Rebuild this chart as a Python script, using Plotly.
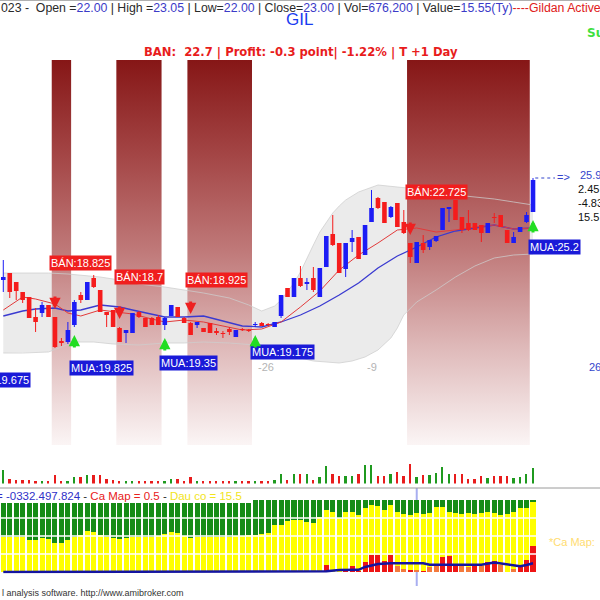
import plotly.graph_objects as go

# ------------------------------------------------------------------ data
opens = [20.8, 21.15, 20.7, 20.2, 19.95, 18.95, 19.15, 19.55, 18.95, 17.75,
         17.7, 18.55, 20.05, 19.8, 20.9, 20.3, 19.2, 19.3, 18.4, 18.15,
         18.15, 19.2, 18.9, 18.9, 18.95, 18.55, 19.0, 19.45, 18.9, 18.65,
         18.55, 18.4, 18.65, 18.25, 18.15, 18.35, 17.95, 18.35, 18.3, 18.55,
         18.65, 18.6, 18.45, 19.0, 20.4, 19.95, 20.9, 20.6, 20.9, 19.95,
         21.45, 23.1, 22.65, 21.35, 22.7, 22.95, 22.05, 23.7, 24.9, 24.7,
         23.95, 24.65, 23.7, 22.65, 21.65, 22.65, 22.45, 22.75, 23.3, 24.35,
         24.8, 23.95, 23.65, 23.65, 23.55, 23.15, 23.95, 24.05, 23.3, 22.65,
         23.2, 23.7, 24.2]
highs = [21.8, 21.15, 20.7, 20.2, 19.95, 19.4, 19.7, 19.55, 18.95, 17.9,
         18.7, 19.8, 20.2, 20.7, 21.05, 20.3, 19.2, 19.3, 18.45, 18.3,
         19.15, 19.25, 18.9, 18.95, 19.05, 18.95, 19.55, 19.45, 18.95, 18.7,
         18.7, 18.4, 18.65, 18.4, 18.25, 18.45, 18.3, 18.4, 18.35, 18.7,
         18.7, 18.65, 18.7, 20.05, 20.4, 20.9, 21.5, 20.9, 21.45, 21.4,
         23.0, 24.05, 22.65, 22.65, 23.3, 22.95, 23.55, 25.3, 24.95, 24.7,
         24.5, 24.65, 24.3, 22.65, 22.7, 23.05, 22.8, 23.0, 24.4, 24.45,
         24.8, 23.95, 24.3, 23.65, 23.55, 23.65, 24.15, 24.05, 23.3, 23.2,
         23.45, 24.2, 25.9]
lows = [20.2, 19.9, 19.8, 19.65, 18.9, 18.2, 18.95, 18.95, 17.4, 17.5,
        17.6, 18.45, 19.65, 19.8, 20.4, 19.2, 18.45, 18.45, 17.7, 17.65,
        18.15, 18.9, 18.45, 18.55, 18.55, 18.3, 19.0, 18.95, 18.65, 18.05,
        18.4, 18.2, 18.15, 18.05, 17.9, 18.05, 17.95, 18.25, 18.2, 18.45,
        18.5, 18.5, 18.45, 18.9, 19.95, 19.95, 20.45, 20.3, 20.2, 19.95,
        21.45, 22.5, 21.15, 20.95, 22.2, 21.85, 22.05, 23.7, 24.35, 23.65,
        23.9, 23.45, 23.1, 21.65, 21.65, 22.15, 22.3, 22.7, 23.3, 23.7,
        23.8, 23.15, 23.25, 23.3, 22.7, 23.15, 23.65, 23.45, 22.65, 22.65,
        23.2, 23.65, 24.2]
closes = [20.95, 20.2, 20.25, 19.8, 18.9, 18.7, 19.55, 18.95, 17.45, 17.65,
          18.3, 19.7, 19.8, 20.7, 20.45, 19.2, 19.05, 18.45, 17.7, 18.3,
          19.15, 18.95, 18.45, 18.55, 18.55, 18.9, 19.55, 18.95, 18.65, 18.05,
          18.7, 18.2, 18.15, 18.15, 18.1, 18.2, 18.3, 18.3, 18.25, 18.6,
          18.5, 18.55, 18.7, 20.05, 19.95, 20.9, 20.5, 20.7, 20.3, 21.4,
          23.0, 22.55, 21.15, 22.65, 22.9, 21.85, 23.55, 24.4, 24.4, 23.65,
          24.45, 23.45, 23.15, 21.95, 22.7, 22.3, 22.8, 23.0, 24.4, 24.45,
          23.8, 23.3, 23.3, 23.3, 23.15, 23.65, 23.9, 23.45, 22.65, 22.95,
          23.45, 24.05, 25.8]
volumes = [630000, 225000, 180000, 180000, 180000, 135000, 135000, 135000, 405000, 135000,
           135000, 315000, 315000, 405000, 405000, 405000, 225000, 180000, 135000, 135000,
           135000, 135000, 135000, 135000, 135000, 135000, 225000, 225000, 135000, 315000,
           135000, 135000, 135000, 135000, 135000, 135000, 135000, 135000, 135000, 135000,
           135000, 135000, 180000, 450000, 180000, 450000, 450000, 450000, 180000, 315000,
           810000, 450000, 360000, 360000, 360000, 450000, 855000, 855000, 360000, 360000,
           450000, 540000, 360000, 900000, 315000, 405000, 405000, 495000, 765000, 450000,
           450000, 450000, 225000, 225000, 360000, 270000, 360000, 360000, 360000, 270000,
           315000, 450000, 676200]

ma_idx = [0, 3, 5, 8, 10, 12, 15, 18, 20, 23, 25, 28, 31, 34, 37, 40, 43, 46, 49, 52,
          55, 58, 61, 64, 67, 70, 73, 76, 79, 82]
ma_fast = [19.3, 19.95, 19.85, 19.6, 19.15, 19.0, 19.3, 19.2, 19.1, 18.85, 18.7, 18.8, 18.7,
           18.5, 18.3, 18.35, 18.7, 19.45, 20.25, 21.3, 22.05, 22.65, 23.3, 23.4, 23.2, 23.3,
           23.45, 23.55, 23.35, 23.4]
ma_slow = [19.0, 19.25, 19.35, 19.4, 19.25, 19.3, 19.55, 19.45, 19.3, 19.1, 18.95, 18.95, 19.0,
           18.75, 18.5, 18.45, 18.7, 19.05, 19.5, 20.05, 20.65, 21.4, 22.0, 22.45, 22.95, 23.25,
           23.4, 23.55, 23.35, 23.4]

band_up_idx = [0, 7, 10, 12, 15, 18, 21, 25, 28, 31, 35, 38, 40, 42, 43, 44, 45, 46, 47, 48,
               49, 50, 51, 52, 53, 55, 58, 61, 64, 67, 70, 73, 76, 79, 82]
band_up = [21.15, 21.15, 21.1, 21.05, 20.95, 20.8, 20.6, 20.45, 20.3, 20.15, 19.9, 19.55, 19.25,
           19.5, 19.8, 20.2, 20.65, 21.2, 21.9, 22.55, 23.2, 23.7, 24.15, 24.5, 24.8, 25.2, 25.55,
           25.45, 25.35, 25.15, 25.05, 24.95, 24.85, 24.7, 24.55]
band_lo_idx = [0, 3, 7, 11, 14, 17, 21, 25, 28, 31, 35, 39, 40, 42, 44, 46, 48, 50, 52, 54,
               56, 58, 60, 61, 62, 64, 67, 70, 73, 76, 79, 82]
band_lo = [17.15, 17.15, 17.2, 17.7, 17.7, 17.6, 17.55, 17.65, 17.65, 17.7, 17.65, 17.55, 17.45,
           17.2, 17.0, 16.9, 16.75, 16.7, 16.65, 16.75, 16.95, 17.3, 17.9, 18.4, 19.05, 19.7,
           20.3, 20.95, 21.5, 21.9, 22.05, 22.1]

sell_idx = [8, 18, 29, 63]
sell_text = ["18.825", "18.7", "18.925", "22.725"]
buy_idx = [11, 25, 39, 82]
buy_text = ["19.825", "19.35", "19.175", "25.2"]
prior_buy_text = "19.675"

flow_green = [46.3, 46.3, 46.3, 47.3, 51.0, 51.0, 48.7, 50.1, 55.6, 54.7,
              51.0, 46.3, 44.0, 38.5, 39.4, 44.0, 46.3, 47.7, 50.1, 47.7,
              46.3, 46.3, 46.3, 46.3, 45.4, 43.1, 39.4, 41.7, 45.4, 47.7,
              46.3, 46.3, 46.3, 46.3, 46.3, 46.3, 45.4, 45.4, 44.0, 48.6,
              47.7, 45.4, 34.7, 34.7, 29.2, 27.8, 27.8, 30.1, 32.4, 23.1,
              13.9, 16.2, 25.5, 16.2, 16.2, 20.8, 11.6, 6.9, 8.3, 13.9,
              6.9, 16.2, 19.4, 20.8, 18.5, 19.4, 17.6, 9.3, 9.3, 16.2,
              18.5, 19.4, 18.5, 19.4, 17.6, 16.2, 17.6, 20.8, 19.4, 16.2,
              11.6, 11.6, 2.3]
flow_yellow = [49.1, 49.1, 49.1, 48.1, 44.4, 44.4, 46.7, 45.3, 39.8, 40.7,
               44.4, 49.1, 51.4, 56.9, 56.0, 51.4, 49.1, 47.7, 45.3, 47.7,
               49.1, 49.1, 49.1, 49.1, 50.0, 52.3, 56.0, 53.7, 50.0, 47.7,
               49.1, 49.1, 49.1, 49.1, 49.1, 49.1, 50.0, 50.0, 51.4, 51.4,
               52.3, 54.6, 65.3, 65.3, 70.8, 72.2, 72.2, 69.9, 67.6, 76.9,
               76.8, 83.8, 74.5, 79.2, 75.9, 77.2, 74.5, 70.0, 68.6, 70.8,
               70.0, 75.9, 76.0, 76.9, 79.2, 79.2, 75.5, 82.8, 69.9, 62.0,
               72.2, 72.7, 74.6, 71.3, 74.5, 69.9, 67.1, 69.9, 80.6, 79.2,
               79.1, 72.2, 62.1]
flow_red = [0, 0, 0, 0, 0, 0, 0, 0, 0, 0,
            0, 0, 0, 0, 0, 0, 0, 0, 0, 0,
            0, 0, 0, 0, 0, 0, 0, 0, 0, 0,
            0, 0, 0, 0, 0, 0, 0, 0, 0, 0,
            0, 0, 0, 0, 0, 0, 0, 0, 0, 0,
            9.3, 0, 0, 4.6, 7.9, 2.0, 13.9, 23.1, 23.1, 15.3,
            23.1, 7.9, 4.6, 2.3, 2.3, 1.4, 6.9, 7.9, 20.8, 21.8,
            9.3, 7.9, 6.9, 9.3, 7.9, 13.9, 15.3, 9.3, 0, 4.6,
            9.3, 16.2, 35.6]
flow_red_light = [61, 62, 64, 66, 67, 71, 72, 74, 77, 79]
flow_line_idx = [0, 45, 48, 50, 52, 55, 56, 58, 60, 65, 66, 74, 76, 78, 80, 81, 82]
flow_line = [0, 0, 0, 1.0, 2.8, 3.0, 7.0, 11.0, 12.0, 12.0, 10.0, 10.0, 13.0, 11.0, 8.0, 9.7, 12.0]
marker_idx = 64

# ------------------------------------------------------------------ helpers
W = H = 600
FONT = "Liberation Sans, Arial, sans-serif"
BOLD_FONT = "DejaVu Sans, Verdana, sans-serif"


def px(x):
    return x / W


def py(y):
    return 1 - y / H


n = len(closes)
idx = list(range(n))
up = [c >= o for o, c in zip(opens, closes)]
Y_LO, Y_HI = 12.55, 31.8
BLUE = "#1c1cf5"
RED = "#f51c1c"

fig = go.Figure()

# Bollinger band fill
fig.add_trace(go.Scatter(x=band_up_idx + band_lo_idx[::-1], y=band_up + band_lo[::-1],
                         fill="toself", fillcolor="#ebebeb", mode="lines",
                         line=dict(width=0), hoverinfo="skip", yaxis="y"))

# sell-zone gradient columns
grad = [[0, "#fbf5f5"], [0.25, "#dfbaba"], [0.5, "#c07a7a"], [0.75, "#a44646"], [1, "#861616"]]
for s, b in zip(sell_idx, buy_idx):
    x0, x1 = s - 0.5, b - 0.5
    fig.add_trace(go.Scatter(x=[x0, x1, x1, x0, x0], y=[Y_LO, Y_LO, Y_HI, Y_HI, Y_LO],
                             fill="toself", mode="lines", line=dict(width=0),
                             fillgradient=dict(type="vertical", colorscale=grad,
                                               start=Y_LO, stop=Y_HI),
                             hoverinfo="skip", yaxis="y"))

# band edges
for bx, by in ((band_up_idx, band_up), (band_lo_idx, band_lo)):
    fig.add_trace(go.Scatter(x=bx, y=by, mode="lines",
                             line=dict(color="rgba(205,205,205,0.75)", width=1),
                             hoverinfo="skip", yaxis="y"))

# moving averages
fig.add_trace(go.Scatter(x=ma_idx, y=ma_slow, mode="lines",
                         line=dict(color="#3a3ad0", width=1.3), yaxis="y"))
fig.add_trace(go.Scatter(x=ma_idx, y=ma_fast, mode="lines",
                         line=dict(color="#e23a3a", width=1), yaxis="y"))

# candles: wicks and bodies (drawn as line segments so they sit above the fills)
for flag, col in ((True, BLUE), (False, RED)):
    wx, wy, bx, by = [], [], [], []
    for i in idx:
        if up[i] == flag:
            wx += [i, i, None]
            wy += [lows[i], highs[i], None]
            lo_b, hi_b = min(opens[i], closes[i]), max(opens[i], closes[i])
            if hi_b - lo_b < 0.05:
                hi_b = lo_b + 0.05
            bx += [i, i, None]
            by += [lo_b, hi_b, None]
    fig.add_trace(go.Scatter(x=wx, y=wy, mode="lines", line=dict(color=col, width=1),
                             hoverinfo="skip", yaxis="y"))
    fig.add_trace(go.Scatter(x=bx, y=by, mode="lines", line=dict(color=col, width=4.6),
                             hoverinfo="skip", yaxis="y"))

# volume
fig.add_trace(go.Bar(x=idx, y=volumes, width=0.28,
                     marker=dict(color=["#1f9a1f" if u else "#e81c1c" for u in up],
                                 line=dict(width=0)), yaxis="y2"))

# money-flow panel (stacked)
fig.add_trace(go.Bar(x=idx, y=flow_red, width=0.78,
                     marker=dict(color=["#f47a3c" if i in flow_red_light else "#ee1414" for i in idx],
                                 line=dict(width=0)), yaxis="y3"))
fig.add_trace(go.Bar(x=idx, y=flow_yellow, width=0.78,
                     marker=dict(color="#ffff00", line=dict(width=0)), yaxis="y3"))
fig.add_trace(go.Bar(x=idx, y=flow_green, width=0.78,
                     marker=dict(color="#168c16", line=dict(width=0)), yaxis="y3"))
fig.add_trace(go.Scatter(x=flow_line_idx, y=flow_line, mode="lines",
                         line=dict(color="#1414a0", width=2.5), yaxis="y3"))

# ------------------------------------------------------------------ shapes
shapes = [
    dict(type="line", xref="paper", yref="paper", x0=0, x1=1, y0=py(0.5), y1=py(0.5),
         line=dict(color="#b0b0b0", width=1)),
    dict(type="line", xref="paper", yref="paper", x0=0, x1=1, y0=py(488), y1=py(488),
         line=dict(color="#9a9a9a", width=1)),
    dict(type="line", xref="x", yref="paper", x0=marker_idx, x1=marker_idx,
         y0=py(586), y1=py(488), line=dict(color="#a8aef0", width=2), layer="below"),
    dict(type="line", xref="x", yref="y", x0=n - 1 + 0.35, x1=n + 2.4,
         y0=highs[-1], y1=highs[-1], line=dict(color="#3344cc", width=1, dash="dot")),
]
for g in (25, 50, 75):
    shapes.append(dict(type="line", xref="x", yref="y3", x0=-0.5, x1=n - 0.5, y0=g, y1=g,
                       line=dict(color="white", width=1.5), layer="above"))

# ------------------------------------------------------------------ annotations
ann = []


def sp(t, c):
    return f'<span style="color:{c}">{t}</span>'


K, V = "#2a2a2a", "#3b3bc8"
header = (sp("023 -\u00a0\u00a0Open =", K) + sp("22.00", V) + sp(" | High =", K) + sp("23.05", V)
          + sp(" | Low=", K) + sp("22.00", V) + sp(" | Close=", K) + sp("23.00", V)
          + sp(" | Vol=", K) + sp("676,200", V) + sp(" | Value=", K) + sp("15.55(Ty)", V)
          + sp("----Gildan Activewear", "#e02020"))
ann.append(dict(xref="paper", yref="paper", x=px(-1), y=py(8), xanchor="left", yanchor="middle",
                text=header, showarrow=False, font=dict(size=12.3, family=FONT)))
ann.append(dict(xref="paper", yref="paper", x=px(299), y=py(20), xanchor="center", yanchor="middle",
                text="GIL", showarrow=False, font=dict(size=17, color="#1a3cf0", family=FONT)))
ann.append(dict(xref="paper", yref="paper", x=px(585), y=py(33), xanchor="left", yanchor="middle",
                text="<b>Su</b>", showarrow=False, font=dict(size=12, color="#3ee03e", family=BOLD_FONT)))
ann.append(dict(xref="paper", yref="paper", x=px(301), y=py(52), xanchor="center", yanchor="middle",
                text="<b>BAN:\u00a0\u00a022.7 | Profit: -0.3 point| -1.22% | T +1 Day</b>",
                showarrow=False, font=dict(size=11.6, color="#e81c1c", family=BOLD_FONT)))

LBL = dict(size=11, color="white", family=FONT)
sell_off = [2.7, 2.5, 2.1, 2.55]
buy_off = [2.05, 1.65, 1.25, 1.75]
for k, (i, t) in enumerate(zip(sell_idx, sell_text)):
    ann.append(dict(x=i - 0.85, y=highs[i] + sell_off[k], xref="x", yref="y", xanchor="left",
                    yanchor="middle", text="BÁN:" + t, showarrow=False, bgcolor="#f01e1e",
                    borderpad=1, font=LBL))
    ann.append(dict(x=i, y=highs[i] + 0.4, xref="x", yref="y", ax=0, ay=-14, text="",
                    showarrow=True, arrowhead=2, arrowsize=0.75, arrowwidth=3,
                    arrowcolor="#ee2020", standoff=0))
for k, (i, t) in enumerate(zip(buy_idx, buy_text)):
    ann.append(dict(x=i - 0.85, y=lows[i] - buy_off[k], xref="x", yref="y", xanchor="left",
                    yanchor="middle", text="MUA:" + t, showarrow=False, bgcolor="#1a1ad8",
                    borderpad=1, font=LBL))
    ann.append(dict(x=i, y=lows[i] - 0.4, xref="x", yref="y", ax=0, ay=14, text="",
                    showarrow=True, arrowhead=2, arrowsize=0.75, arrowwidth=3,
                    arrowcolor="#22dd22", standoff=0))
ann.append(dict(xref="paper", yref="paper", x=px(-34), y=py(380), xanchor="left", yanchor="middle",
                text="MUA:" + prior_buy_text, showarrow=False, bgcolor="#1a1ad8", borderpad=1,
                font=LBL))

RT = dict(size=11, family=FONT)
ann.append(dict(xref="paper", yref="paper", x=px(555), y=py(177), xanchor="left", yanchor="middle",
                text="=>", showarrow=False, font=dict(RT, color="#3344cc")))
ann.append(dict(xref="paper", yref="paper", x=px(578), y=py(175), xanchor="left", yanchor="middle",
                text=f"{highs[-1]:.1f}", showarrow=False, font=dict(RT, color="#3344cc")))
for t, yy in (("2.45", 189), ("-4.83", 203), ("15.5", 217)):
    ann.append(dict(xref="paper", yref="paper", x=px(576), y=py(yy), xanchor="left",
                    yanchor="middle", text=t, showarrow=False, font=dict(RT, color="#111111")))
ann.append(dict(xref="paper", yref="paper", x=px(587), y=py(367), xanchor="left", yanchor="middle",
                text="26", showarrow=False, font=dict(RT, color="#3344cc")))
for t, xx in (("-26", 266), ("-9", 372)):
    ann.append(dict(xref="paper", yref="paper", x=px(xx), y=py(367), xanchor="center",
                    yanchor="middle", text=t, showarrow=False, font=dict(RT, color="#b4b4b4")))

ind = (sp("= -0332.497.824", "#3030c8") + sp(" - ", K) + sp("Ca Map = 0.5", "#e82020")
       + sp(" - ", K) + sp("Dau co = 15.5", "#f2e41c"))
ann.append(dict(xref="paper", yref="paper", x=px(-6), y=py(496), xanchor="left", yanchor="middle",
                text=ind, showarrow=False, font=dict(size=11.5, family=FONT)))
ann.append(dict(xref="paper", yref="paper", x=px(547), y=py(542), xanchor="left", yanchor="middle",
                text="*Ca Map:", showarrow=False, font=dict(size=11, color="#ffdc70", family=FONT)))
ann.append(dict(xref="paper", yref="paper", x=px(0), y=py(593), xanchor="left", yanchor="middle",
                text="l analysis software. http://www.amibroker.com", showarrow=False,
                font=dict(size=9, color="#333333", family=FONT)))

# ------------------------------------------------------------------ layout
hid = dict(visible=False, showgrid=False, zeroline=False, fixedrange=True)
fig.update_layout(
    width=W, height=H, autosize=False, margin=dict(l=0, r=0, t=0, b=0),
    paper_bgcolor="white", plot_bgcolor="white", showlegend=False, barmode="stack",
    font=dict(family=FONT),
    xaxis=dict(hid, range=[-0.51, 92.37], domain=[0, 1], anchor="y3"),
    yaxis=dict(hid, range=[Y_LO, Y_HI], domain=[py(445), py(60)], anchor="x"),
    yaxis2=dict(hid, range=[0, 1350000], domain=[py(483.5), py(453.5)], anchor="x"),
    yaxis3=dict(hid, range=[-2, 100], domain=[py(573.4), py(500)], anchor="x"),
    shapes=shapes, annotations=ann,
)
fig.write_html("out.html", config=dict(displayModeBar=False),
               post_script="document.body.style.margin='0';document.body.style.overflow='hidden';")
